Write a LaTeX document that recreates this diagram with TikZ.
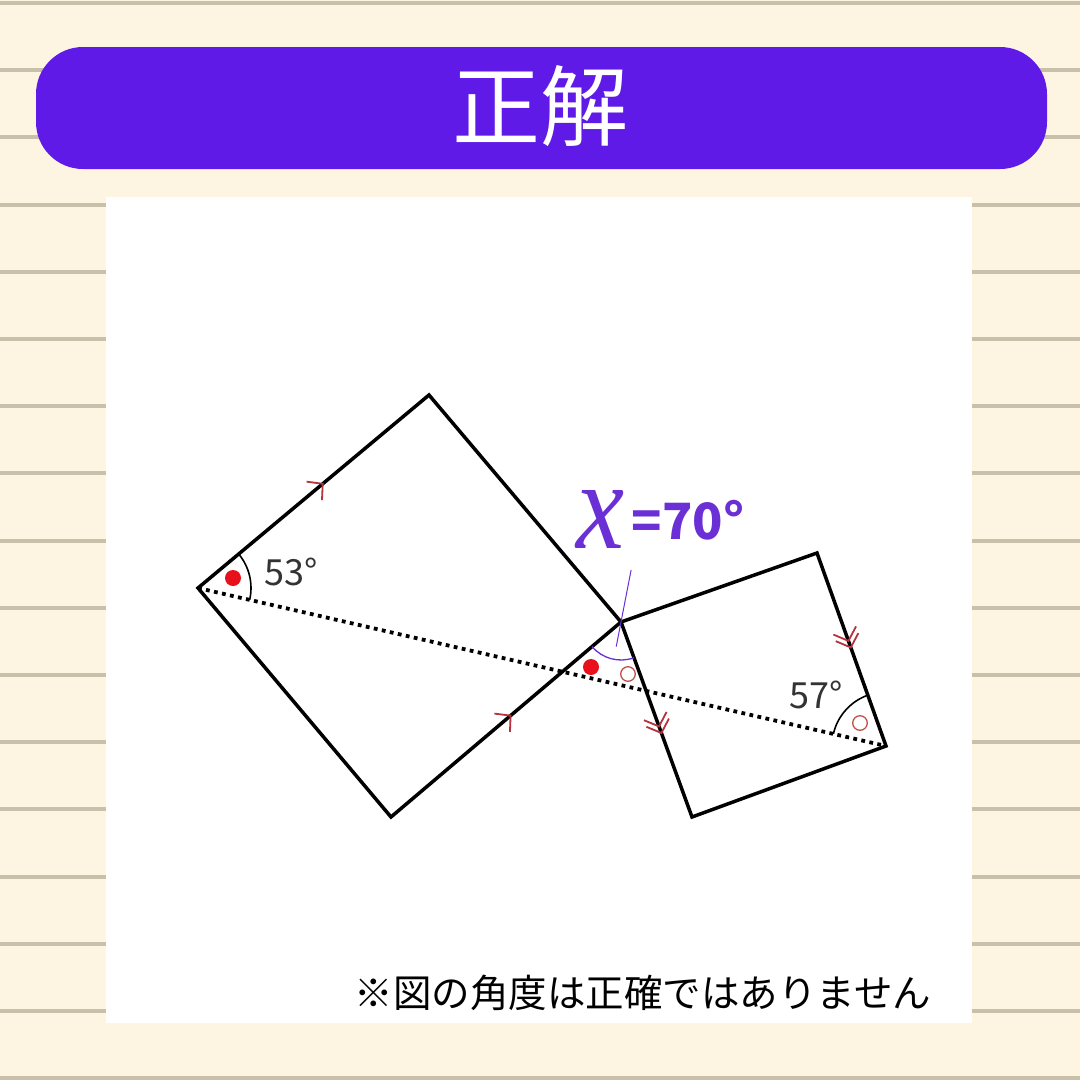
\documentclass[tikz,border=0pt]{standalone}
\usepackage{fontspec}
\usepackage{graphicx}
\setmainfont{Noto Sans CJK JP}
\newfontfamily\serifx{Liberation Serif}
\usetikzlibrary{angles,decorations.markings,calc}
\definecolor{bgc}{HTML}{FDF5E1}
\definecolor{stripec}{HTML}{C9C0AA}
\definecolor{bannerc}{HTML}{5F1AE8}
\definecolor{xcol}{HTML}{6B2FD6}
\definecolor{chevc}{HTML}{B5333A}
\definecolor{dotc}{HTML}{E8101A}
\definecolor{ringc}{HTML}{C2504A}
\definecolor{lblc}{HTML}{333333}
\tikzset{
  stripe/.style={stripec, line width=4pt},
  edge/.style={black, line width=3.5pt, line join=miter},
  dotline/.style={black, line width=3.8pt, dash pattern=on 3.8pt off 4.4pt},
  chevone/.style={postaction={decorate}, decoration={markings, mark=at position #1 with {\draw[chevc, line width=1.8pt] (-11,12)--(0,0)--(-11,-12);}}},
  chevtwo/.style={postaction={decorate}, decoration={markings, mark=at position #1 with {\draw[chevc, line width=1.8pt] (-7,12)--(4,0)--(-7,-12) (-14,12)--(-3,0)--(-14,-12);}}},
  reddot/.style={fill=dotc, draw=none},
  ring/.style={draw=ringc, line width=1.3pt},
  lbl/.style={text=lblc, font=\fontsize{36}{40}\selectfont, inner sep=0pt},
}
\begin{document}
\begin{tikzpicture}[x=1pt,y=1pt]
\useasboundingbox (0,0) rectangle (1080,-1080);
\fill[bgc] (0,0) rectangle (1080,-1080);
\foreach \k in {0,...,16} \draw[stripe] (0,{-3-67.2*\k}) -- (1080,{-3-67.2*\k});
\fill[bannerc, rounded corners=47pt] (36,-47) rectangle (1047,-169);
\node[text=white, font=\fontsize{88}{90}\selectfont, inner sep=0pt] (title) at (540,-106) {正解};
\fill[white] (106,-197) rectangle (972,-1023);

% vertices
\coordinate (A) at (198,-588);
\coordinate (B) at (429,-395);
\coordinate (C) at (621,-622);
\coordinate (D) at (391,-817);
\coordinate (E) at (817,-553);
\coordinate (F) at (886,-746);
\coordinate (G) at (692,-817);

% dotted diagonal
\draw[dotline] (A) -- (F);

% squares
\draw[edge] (A) -- (B) -- (C) -- (D) -- cycle;
\draw[edge] (C) -- (E) -- (F) -- (G) -- cycle;

% parallel marks
\path[chevone=0.54] (A) -- (B);
\path[chevone=0.52] (D) -- (C);
\path[chevtwo=0.55] (C) -- (G);
\path[chevtwo=0.47] (E) -- (F);

% angle arcs
\pic[draw=black, line width=1.6pt, angle radius=53pt] {angle=F--A--B};
\pic[draw=black, line width=1.6pt, angle radius=54pt] {angle=E--F--A};
\pic[draw=xcol, line width=1.3pt, angle radius=38pt] {angle=D--C--G};
\coordinate (xa) at ($(C)+(79:53)$);
\coordinate (xb) at ($(C)+(259:25)$);
\draw[xcol, line width=1pt] (xa) -- (xb);

% markers
\fill[reddot] (233,-578) circle (8);
\fill[reddot] (591,-667) circle (8);
\draw[ring] (628,-674) circle (7.3);
\draw[ring] (860,-723) circle (7.3);

% labels
\node[lbl] (l53) at (291,-572) {53°};
\node[lbl] (l57) at (816,-695) {57°};
\node[text=xcol, inner sep=0pt] (xl) at (601,-519) {\resizebox{48pt}{58pt}{\serifx\itshape x}};
\node[text=xcol, font=\fontsize{50}{54}\selectfont\bfseries, inner sep=0pt] (xv) at (688,-520) {=70°};

\node[text=black, font=\fontsize{38.5}{42}\selectfont, inner sep=0pt] (note) at (643,-993) {※図の角度は正確ではありません};
\end{tikzpicture}
\end{document}
